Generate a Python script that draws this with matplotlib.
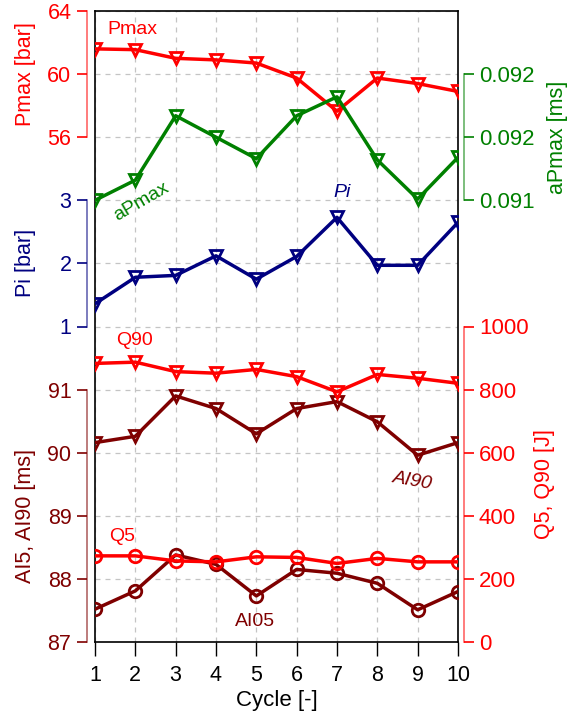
import numpy as np
import matplotlib
matplotlib.use("Agg")
import matplotlib.pyplot as plt

plt.rcParams['font.family'] = ['Liberation Sans', 'DejaVu Sans']

cycles = [1, 2, 3, 4, 5, 6, 7, 8, 9, 10]
pmax = [61.6, 61.55, 61.0, 60.9, 60.7, 59.75, 57.65, 59.75, 59.4, 58.9]
apmax = [0.09100, 0.09116, 0.09167, 0.09150, 0.09133, 0.09167, 0.09182, 0.09132, 0.09101, 0.09134]
pi = [1.36, 1.78, 1.81, 2.12, 1.75, 2.11, 2.73, 1.97, 1.97, 2.65]
q90 = [883, 887, 857, 852, 864, 841, 793, 848, 836, 820]
ai90 = [90.16, 90.26, 90.90, 90.70, 90.30, 90.70, 90.81, 90.49, 89.96, 90.16]
q5 = [273, 273, 257, 254, 270, 268, 249, 265, 254, 254]
ai05 = [87.52, 87.81, 88.38, 88.23, 87.73, 88.15, 88.09, 87.93, 87.51, 87.80]

RED = "#FF0000"
GREEN = "#008000"
NAVY = "#000080"
DRED = "#7F0000"

fig = plt.figure(figsize=(5.71, 7.14), dpi=100)
ax = fig.add_axes([95/571, 72/714, 363/571, 631/714])
ax.set_xlim(1, 10)
ax.set_ylim(0, 10)
ax.set_xticks(cycles)
ax.set_yticks(range(11))
ax.tick_params(axis='y', length=0, labelleft=False)
ax.tick_params(axis='x', direction='out', length=10, width=1, pad=6.5, labelsize=15.5)
ax.grid(True, color="#C4C4C4", linestyle=(0, (4, 4)), linewidth=0.9)
ax.set_xlabel("Cycle [-]", fontsize=16, labelpad=3)
for s in ax.spines.values():
    s.set_linewidth(1.2)


def sub_axis(lim, side, bounds, ticks, color, label, label_x, label_y, ticklabels=None):
    a = ax.twinx()
    a.set_ylim(*lim)
    other = 'right' if side == 'left' else 'left'
    a.spines[other].set_visible(False)
    a.spines['top'].set_visible(False)
    a.spines['bottom'].set_visible(False)
    sp = a.spines[side]
    sp.set_visible(True)
    sp.set_position(('outward', 6 if side == 'left' else 4))
    sp.set_bounds(*bounds)
    sp.set_color(color)
    sp.set_alpha(0.6)
    sp.set_linewidth(1.2)
    if side == 'left':
        a.yaxis.tick_left()
    else:
        a.yaxis.tick_right()
    a.set_yticks(ticks)
    if ticklabels is not None:
        a.set_yticklabels(ticklabels)
    a.tick_params(axis='y', colors=color, labelsize=15.5 if side == 'left' else 16,
                  length=7, width=1.2, pad=4)
    a.set_ylabel(label, color=color, fontsize=15.5)
    a.yaxis.set_label_position(side)
    a.yaxis.set_label_coords(label_x, label_y)
    a.patch.set_visible(False)
    return a


ax_p = sub_axis((24, 64), 'left', (56, 64), [56, 60, 64], RED, "Pmax [bar]", -0.163, 0.9)
ax_pi = sub_axis((-4, 6), 'left', (1, 3), [1, 2, 3], NAVY, "Pi [bar]", -0.163, 0.6)
ax_ai = sub_axis((87, 97), 'left', (87, 91), [87, 88, 89, 90, 91], DRED, "AI5, AI90 [ms]",
                 -0.163, 0.2)
ax_ap = sub_axis((0.0875, 0.0925), 'right', (0.091, 0.092), [0.091, 0.0915, 0.092], GREEN,
                 "aPmax [ms]", 1.245, 0.8, ["0.091", "0.092", "0.092"])
ax_q = sub_axis((0, 2000), 'right', (0, 1000), [0, 200, 400, 600, 800, 1000], RED,
                "Q5, Q90 [J]", 1.21, 0.25)

lk = dict(linewidth=2.5, markersize=9, markerfacecolor='none', markeredgewidth=2)
ax_p.plot(cycles, pmax, color=RED, marker='v', **lk)
ax_ap.plot(cycles, apmax, color=GREEN, marker='v', **lk)
ax_pi.plot(cycles, pi, color=NAVY, marker='v', **lk)
ax_q.plot(cycles, q90, color=RED, marker='v', **lk)
ax_ai.plot(cycles, ai90, color=DRED, marker='v', **lk)
ax_q.plot(cycles, q5, color=RED, marker='o', **lk)
ax_ai.plot(cycles, ai05, color=DRED, marker='o', **lk)

tk = dict(fontsize=14, ha='center', va='center')
ax_p.text(1.92, 62.8, "Pmax", color=RED, **tk)
ax_ap.text(2.15, 0.09099, "aPmax", color=GREEN, rotation=30, **tk)
ax_pi.text(7.13, 3.13, "Pi", color=NAVY, style='italic', **tk)
ax_q.text(1.99, 955, "Q90", color=RED, **tk)
ax_ai.text(8.87, 89.55, "AI90", color=DRED, style='italic', rotation=-10, **tk)
ax_q.text(1.67, 333, "Q5", color=RED, **tk)
ax_ai.text(4.97, 87.33, "AI05", color=DRED, **tk)

fig.savefig("out.png", dpi=100)
